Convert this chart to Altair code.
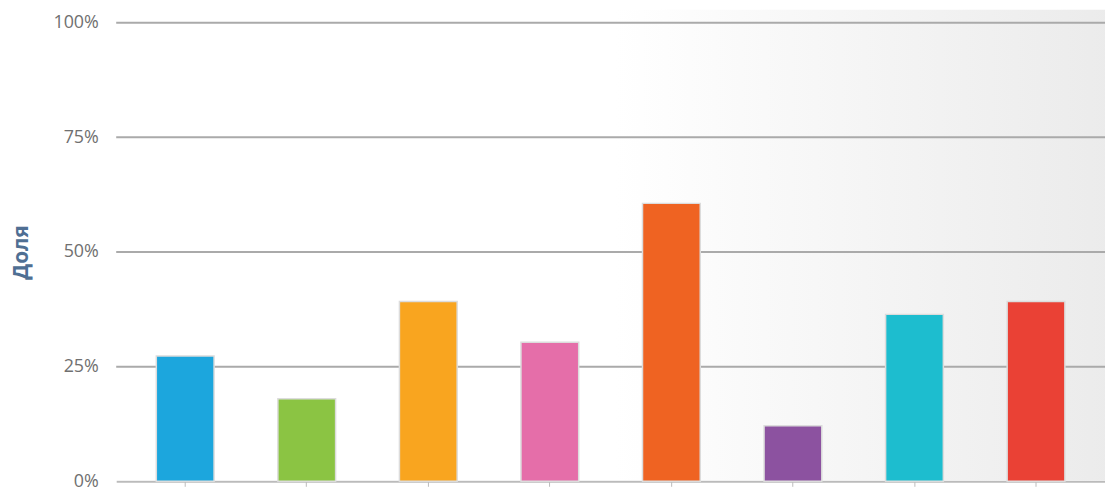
import altair as alt
import pandas as pd

categories = ["A", "B", "C", "D", "E", "F", "G", "H"]
values = [27.3, 18.0, 39.2, 30.3, 60.6, 12.1, 36.4, 39.2]
colors = ["#1ca6dd", "#8bc443", "#f9a51f", "#e56ea9", "#ef6322", "#8c52a0", "#1dbdcf", "#ea4135"]
y_ticks = [0, 25, 50, 75, 100]

df = pd.DataFrame({"cat": categories, "val": values, "col": colors})
grid_df = pd.DataFrame({"t": y_ticks[1:]})

W, H = 996, 462

bg = alt.Chart(pd.DataFrame({"d": [0]})).mark_rect(
    color=alt.LinearGradient(
        gradient="linear",
        stops=[alt.GradientStop(color="#ffffff", offset=0),
               alt.GradientStop(color="#ffffff", offset=0.5),
               alt.GradientStop(color="#ebebeb", offset=1)],
        x1=0, x2=1, y1=0, y2=0,
    )
).encode(x=alt.value(0), x2=alt.value(W + 10), y=alt.value(-13), y2=alt.value(H - 1))

grid = alt.Chart(grid_df).mark_rule(color="#aaaaaa", strokeWidth=2).encode(
    y=alt.Y("t:Q", scale=alt.Scale(domain=[0, 100])),
)

bars = alt.Chart(df).mark_bar(stroke="#dcdcdc", strokeWidth=1.5).encode(
    x=alt.X("cat:N", sort=categories,
            scale=alt.Scale(paddingInner=0.525, paddingOuter=0.33),
            axis=alt.Axis(labels=False, title=None, grid=False, domain=True,
                          domainColor="#bbbbbb", domainWidth=2,
                          ticks=True, tickColor="#bbbbbb", tickSize=5, tickWidth=1)),
    y=alt.Y("val:Q", scale=alt.Scale(domain=[0, 100]),
            axis=alt.Axis(values=y_ticks, labelExpr="datum.value + '%'",
                          title="Доля", titleFontWeight="bold", titleColor="#4f6f93",
                          titleFontSize=21, titleFont="Open Sans", titlePadding=22,
                          labelFont="Open Sans", labelFontSize=18, labelColor="#707070",
                          labelPadding=18, ticks=False, domain=False, grid=False)),
    color=alt.Color("col:N", scale=None),
)

chart = alt.layer(bg, grid, bars).properties(
    width=W, height=H,
    autosize="none",
    padding={"left": 109, "top": 13, "right": 0, "bottom": 12},
).configure_view(stroke=None)

chart.save("out.html", embed_options={"renderer": "svg", "actions": False})
